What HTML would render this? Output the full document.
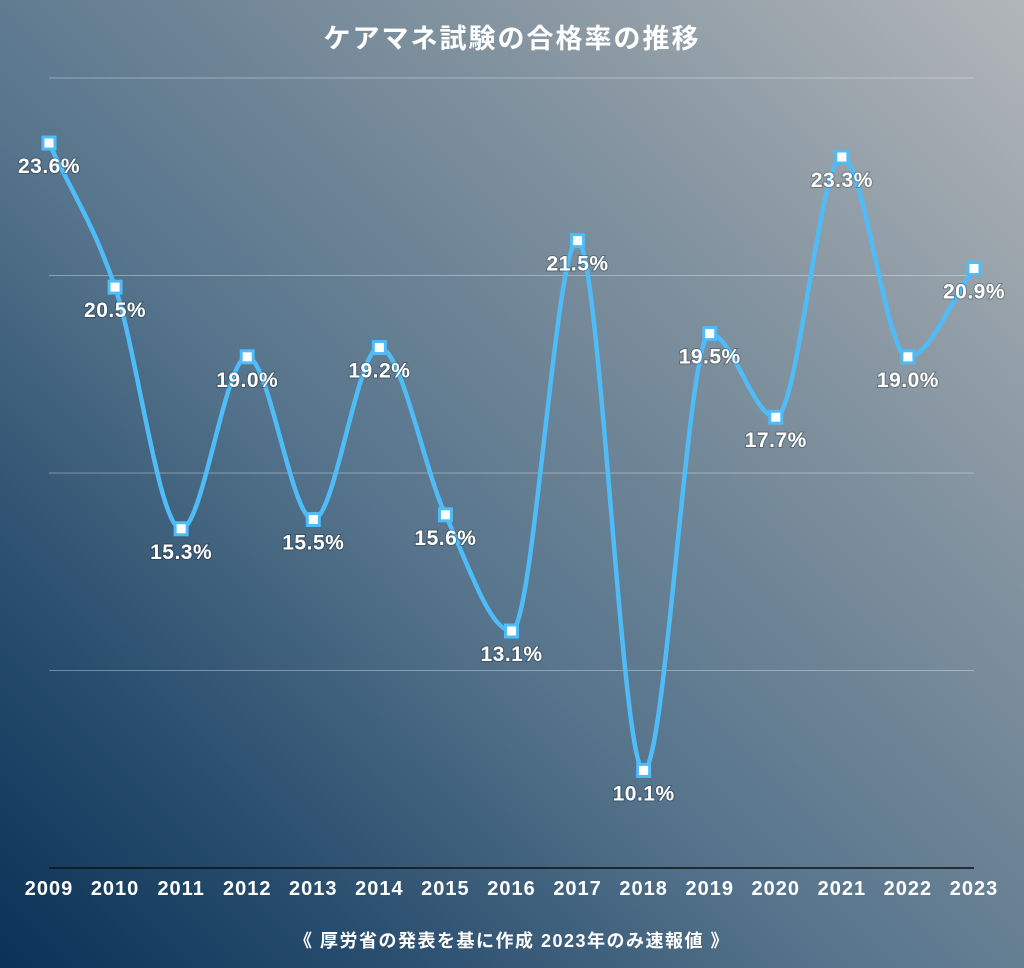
<!DOCTYPE html>
<html><head><meta charset="utf-8">
<style>
html,body{margin:0;padding:0;}
body{width:1024px;height:968px;overflow:hidden;font-family:"Liberation Sans","Noto Sans CJK JP",sans-serif;
background:linear-gradient(225deg,#b2b6b9 0%,#8494a0 28%,#56748c 58%,#264b6c 82%,#0a3256 100%);}
svg{position:absolute;left:0;top:0;}
</style></head>
<body>
<svg width="1024" height="968">
<text x="512" y="48" text-anchor="middle" fill="#fff" font-size="27" font-weight="bold" letter-spacing="2" style="font-family:'Liberation Sans','Noto Sans CJK JP',sans-serif">ケアマネ試験の合格率の推移</text>
<g id="grid"></g>
<g id="xlabels"></g>
<path id="line" fill="none" stroke="#4fbcf7" stroke-width="4.5"/>
<g id="marks"></g>
<text x="512" y="947" text-anchor="middle" fill="#fff" font-size="18" font-weight="bold" letter-spacing="1.5" style="font-family:'Liberation Sans','Noto Sans CJK JP',sans-serif">《 厚労省の発表を基に作成 2023年のみ速報値 》</text>
</svg>
<script>
const years=["2009","2010","2011","2012","2013","2014","2015","2016","2017","2018","2019","2020","2021","2022","2023"];
const rates=[23.6,20.5,15.3,19.0,15.5,19.2,15.6,13.1,21.5,10.1,19.5,17.7,23.3,19.0,20.9];
const yTicks=[8,12.25,16.5,20.75,25];
const NS="http://www.w3.org/2000/svg";
const x0=49,x1=974,yMin=8,yMax=25,yTop=78,yBot=868;
const xs=i=>x0+(x1-x0)*i/(years.length-1);
const ys=v=>yBot-(v-yMin)/(yMax-yMin)*(yBot-yTop);
const grid=document.getElementById('grid');
yTicks.forEach((t,i)=>{const l=document.createElementNS(NS,'line');
l.setAttribute('x1',49);l.setAttribute('x2',974);l.setAttribute('y1',ys(t));l.setAttribute('y2',ys(t));
l.setAttribute('stroke',i==0?'#111':'rgba(255,255,255,0.35)');l.setAttribute('stroke-width',i==0?1.5:1);


grid.appendChild(l);});
const xl=document.getElementById('xlabels');
years.forEach((y,i)=>{const t=document.createElementNS(NS,'text');
t.setAttribute('x',xs(i));t.setAttribute('y',895);t.setAttribute('text-anchor','middle');
t.setAttribute('fill','#fff');t.setAttribute('font-size','20');t.setAttribute('font-weight','bold');t.setAttribute('letter-spacing','1');


t.textContent=y;xl.appendChild(t);});
// monotone cubic (Fritsch-Carlson)
const P=rates.map((v,i)=>[xs(i),ys(v)]);
const n=P.length,dx=[],sl=[],tg=[];
for(let i=0;i<n-1;i++){dx[i]=P[i+1][0]-P[i][0];sl[i]=(P[i+1][1]-P[i][1])/dx[i];}
tg[0]=sl[0];tg[n-1]=sl[n-2];
for(let i=1;i<n-1;i++){tg[i]=(sl[i-1]*sl[i]<=0)?0:(sl[i-1]+sl[i])/2;}
for(let i=0;i<n-1;i++){if(sl[i]===0){tg[i]=0;tg[i+1]=0;continue;}
const a=tg[i]/sl[i],b=tg[i+1]/sl[i],h=a*a+b*b;if(h>9){const t=3/Math.sqrt(h);tg[i]=t*a*sl[i];tg[i+1]=t*b*sl[i];}}
let d=`M${P[0][0]},${P[0][1]}`;
for(let i=0;i<n-1;i++){const h=dx[i]/3;
d+=` C${P[i][0]+h},${P[i][1]+tg[i]*h} ${P[i+1][0]-h},${P[i+1][1]-tg[i+1]*h} ${P[i+1][0]},${P[i+1][1]}`;}
document.getElementById('line').setAttribute('d',d);
const m=document.getElementById('marks');
rates.forEach((v,i)=>{const r=document.createElementNS(NS,'rect');
r.setAttribute('x',xs(i)-6);r.setAttribute('y',ys(v)-6);r.setAttribute('width',12);r.setAttribute('height',12);
r.setAttribute('fill','#fff');r.setAttribute('stroke','#4fbcf7');r.setAttribute('stroke-width',3);


m.appendChild(r);
const t=document.createElementNS(NS,'text');
t.setAttribute('x',xs(i));t.setAttribute('y',ys(v)+30);t.setAttribute('text-anchor','middle');
t.setAttribute('fill','#fff');t.setAttribute('font-size','21');t.setAttribute('font-weight','bold');t.setAttribute('letter-spacing','0.5');
t.setAttribute('style','paint-order:stroke;stroke:rgba(0,0,0,0.25);stroke-width:2px');


t.textContent=v.toFixed(1)+'%';m.appendChild(t);});
</script>
</body></html>
